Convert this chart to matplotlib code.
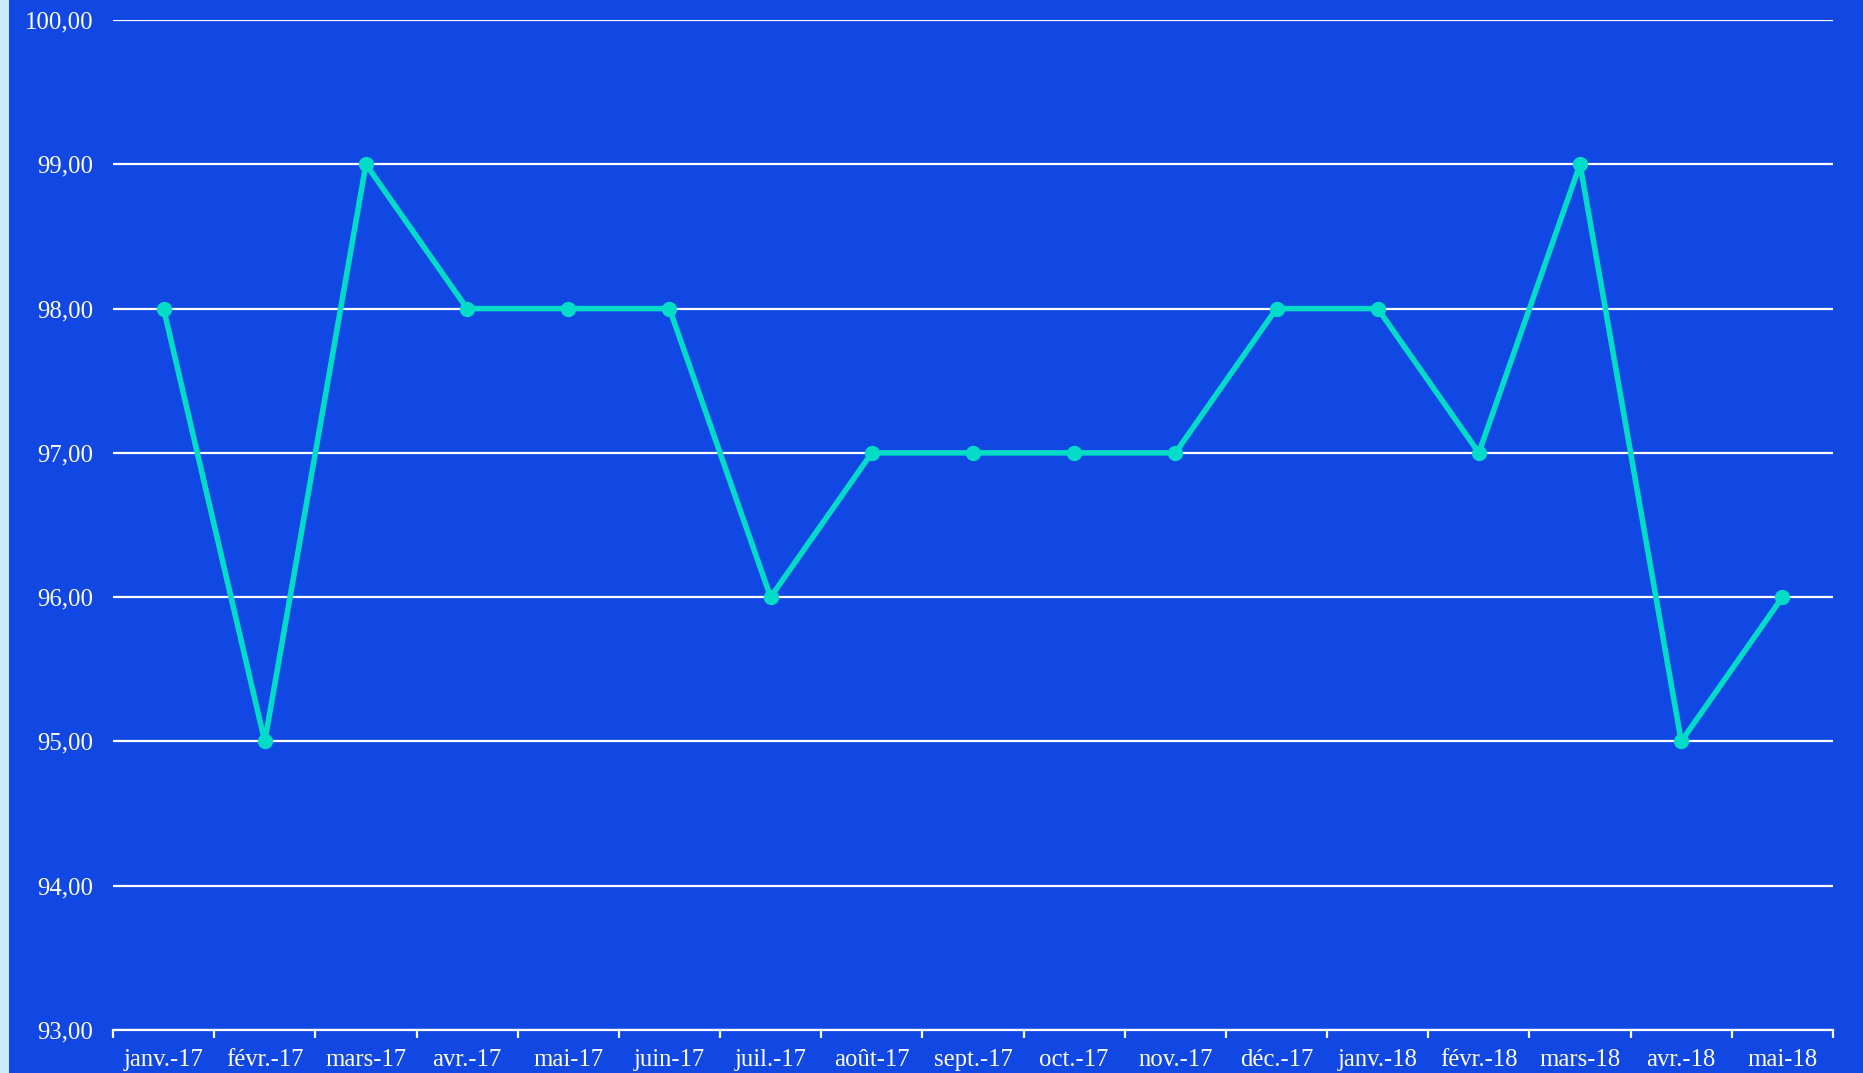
import matplotlib.pyplot as plt
from matplotlib.patches import Rectangle

# monthly values
months = ["janv.-17", "févr.-17", "mars-17", "avr.-17", "mai-17", "juin-17",
          "juil.-17", "août-17", "sept.-17", "oct.-17", "nov.-17", "déc.-17",
          "janv.-18", "févr.-18", "mars-18", "avr.-18", "mai-18"]
values = [98, 95, 99, 98, 98, 98, 96, 97, 97, 97, 97, 98, 98, 97, 99, 95, 96]
y_ticks = [93, 94, 95, 96, 97, 98, 99, 100]

BLUE = "#1147e3"
TEAL = "#00dcc8"

plt.rcParams['font.family'] = ['Liberation Serif', 'DejaVu Serif']

fig = plt.figure(figsize=(18.65, 10.73), dpi=100)
fig.patch.set_facecolor("#cdeafc")
# blue panel behind the axes
fig.add_artist(Rectangle((9 / 1865, 0), 1854 / 1865, 1, transform=fig.transFigure,
                         facecolor=BLUE, edgecolor="none", zorder=-10))

ax = fig.add_axes([113 / 1865, 1 - 1030 / 1073, 1720 / 1865, 1010 / 1073])
ax.set_facecolor(BLUE)

x = [i + 0.5 for i in range(len(months))]
ax.plot(x, values, color=TEAL, lw=4, marker="o", ms=10, zorder=3, clip_on=False)

ax.set_xlim(0, len(months))
ax.set_ylim(93, 100)
ax.set_yticks(y_ticks)
ax.set_yticklabels([f"{v:.2f}".replace(".", ",") for v in y_ticks])
ax.set_xticks(range(len(months) + 1))
ax.set_xticklabels([])
ax.set_xticks(x, minor=True)
ax.set_xticklabels(months, minor=True)

ax.grid(axis="y", color="white", lw=1.6, zorder=1)
for s in ["top", "right", "left"]:
    ax.spines[s].set_visible(False)
ax.spines["bottom"].set_color("white")
ax.spines["bottom"].set_linewidth(1.6)

ax.tick_params(axis="y", length=0, pad=14, labelsize=17.8, labelcolor="white")
ax.tick_params(axis="x", which="major", length=6, width=1.6, color="white")
ax.tick_params(axis="x", which="minor", length=0, pad=14, labelsize=17.8, labelcolor="white")

fig.savefig("out.png", dpi=100, facecolor=fig.get_facecolor())
